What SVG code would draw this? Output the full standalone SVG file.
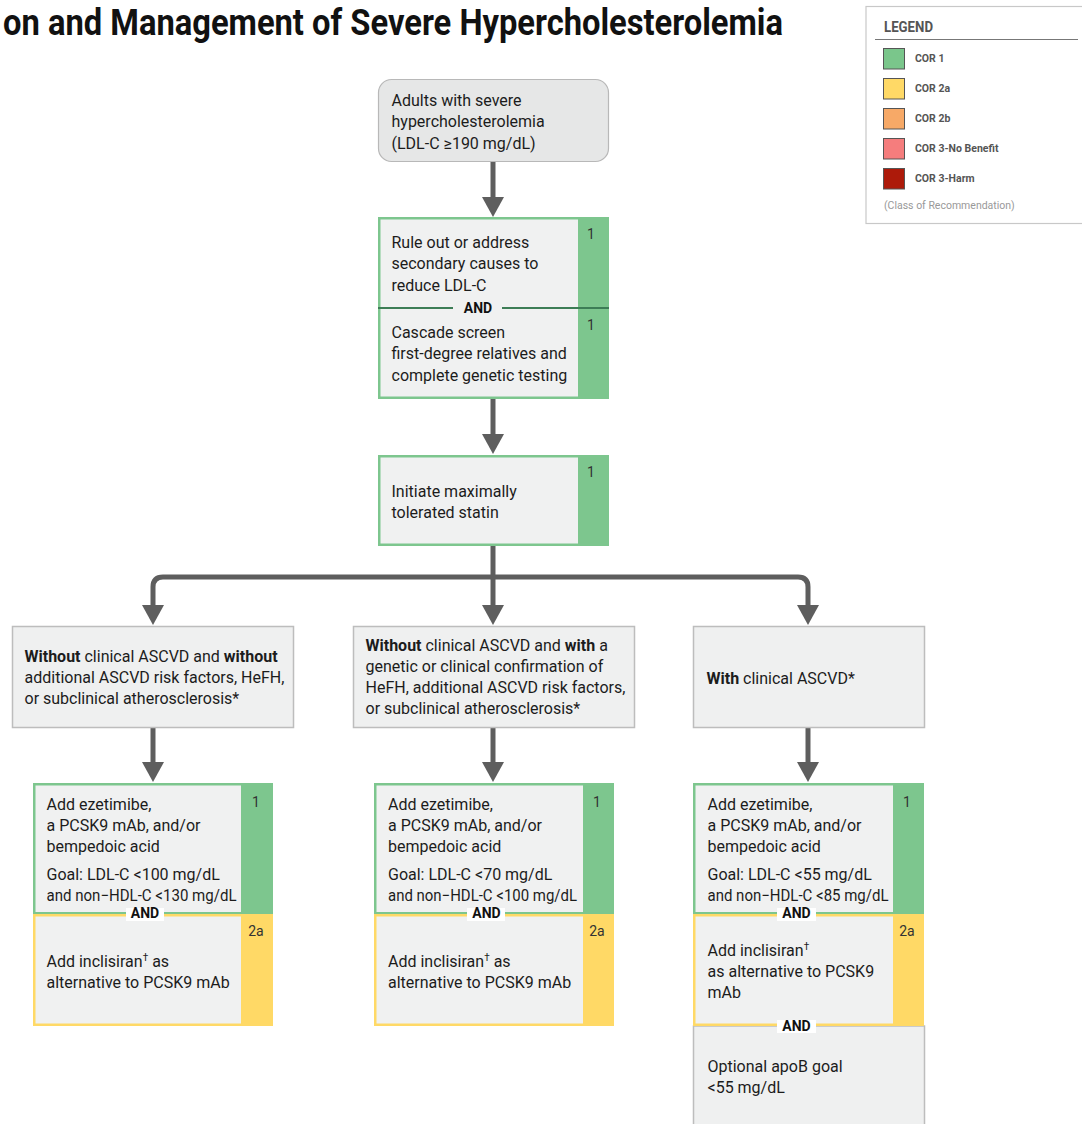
<svg xmlns="http://www.w3.org/2000/svg" width="1082" height="1124" viewBox="0 0 1082 1124">
<defs>
<style>
.t{font-family:Roboto,"Liberation Sans",sans-serif;font-size:16px;fill:#1c1c1c}
.b{font-weight:700}
.num{font-family:Roboto,"Liberation Sans",sans-serif;font-size:14px;fill:#333;text-anchor:middle}
.and{font-family:Roboto,"Liberation Sans",sans-serif;font-size:14px;font-weight:700;fill:#111;text-anchor:middle}
.box{fill:#eff0f0;stroke:#bdbdbd;stroke-width:1.5}
.g{fill:#7dc68e}
.y{fill:#ffd966}
.in{fill:#f0f1f1}
.con{fill:none;stroke:#5e5e5e;stroke-width:5;marker-end:url(#ah)}
.lbl{font-family:Roboto,"Liberation Sans",sans-serif;font-size:10.5px;font-weight:700;fill:#555}
.sw{stroke:#555;stroke-width:1}
</style>
<marker id="ah" viewBox="0 0 20 22" refX="0" refY="11" markerWidth="20" markerHeight="22" markerUnits="userSpaceOnUse" orient="auto">
<path d="M0,0 L20,11 L0,22 Z" fill="#5e5e5e"/>
</marker>
</defs>
<rect width="1082" height="1124" fill="#fff"/>

<text id="title" x="3" y="35" font-family="Roboto,'Liberation Sans',sans-serif" font-size="37" font-weight="700" fill="#111" textLength="780" lengthAdjust="spacingAndGlyphs">on and Management of Severe Hypercholesterolemia</text>

<g id="legend">
<rect x="866" y="6.5" width="230" height="217" fill="#fff" stroke="#c8c8c8" stroke-width="1.2"/>
<text x="884" y="32" font-family="Roboto,'Liberation Sans',sans-serif" font-size="14" font-weight="700" fill="#555" textLength="49" lengthAdjust="spacingAndGlyphs">LEGEND</text>
<line x1="875" y1="39.5" x2="1078" y2="39.5" stroke="#777" stroke-width="1.2"/>
<rect class="sw" x="883.5" y="48.5" width="21" height="20.5" fill="#7ac68b"/>
<text class="lbl" x="915" y="62">COR 1</text>
<rect class="sw" x="883.5" y="78.5" width="21" height="20.5" fill="#ffd966"/>
<text class="lbl" x="915" y="92">COR 2a</text>
<rect class="sw" x="883.5" y="108.5" width="21" height="20.5" fill="#f7a967"/>
<text class="lbl" x="915" y="122">COR 2b</text>
<rect class="sw" x="883.5" y="138.5" width="21" height="20.5" fill="#f57d7d"/>
<text class="lbl" x="915" y="152">COR 3-No Benefit</text>
<rect class="sw" x="883.5" y="168.5" width="21" height="20.5" fill="#ad1a0a"/>
<text class="lbl" x="915" y="182">COR 3-Harm</text>
<text x="884" y="208.5" font-family="Roboto,'Liberation Sans',sans-serif" font-size="10.5" fill="#999">(Class of Recommendation)</text>
</g>

<g id="connectors">
<path class="con" d="M493,161 V197"/>
<path class="con" d="M493,399 V434"/>
<path class="con" d="M493,546 V605"/>
<path class="con" d="M493,577 H163 Q153,577 153,587 V605"/>
<path class="con" d="M493,577 H798 Q808,577 808,587 V605"/>
<path class="con" d="M153,727 V762"/>
<path class="con" d="M493,727 V762"/>
<path class="con" d="M808,727 V762"/>
</g>

<g id="start">
<rect x="378.5" y="79.5" width="230" height="82" rx="13" fill="#e6e7e7" stroke="#b8b8b8" stroke-width="1.2"/>
<text class="t"><tspan x="391.5" y="106">Adults with severe</tspan><tspan x="391.5" y="127.3">hypercholesterolemia</tspan><tspan x="391.5" y="148.6">(LDL-C ≥190 mg/dL)</tspan></text>
</g>

<g id="secondary">
<rect class="g" x="378" y="217" width="231" height="182"/>
<rect class="in" x="380.5" y="219.5" width="197.5" height="177"/>
<line x1="378" y1="308" x2="609" y2="308" stroke="#3d7d56" stroke-width="2"/>
<rect x="453" y="300" width="49" height="15" fill="#f0f1f1"/>
<text class="and" x="478" y="313">AND</text>
<text class="num" x="591" y="239">1</text>
<text class="num" x="591" y="330">1</text>
<text class="t"><tspan x="391.5" y="248">Rule out or address</tspan><tspan x="391.5" y="269.3">secondary causes to</tspan><tspan x="391.5" y="290.6">reduce LDL-C</tspan></text>
<text class="t"><tspan x="391.5" y="338">Cascade screen</tspan><tspan x="391.5" y="359.3">first-degree relatives and</tspan><tspan x="391.5" y="380.6">complete genetic testing</tspan></text>
</g>

<g id="statin">
<rect class="g" x="378" y="455" width="231" height="91"/>
<rect class="in" x="380.5" y="457.5" width="197.5" height="86"/>
<text class="num" x="591" y="477">1</text>
<text class="t"><tspan x="391.5" y="497">Initiate maximally</tspan><tspan x="391.5" y="518.3">tolerated statin</tspan></text>
</g>

<g id="noRisk">
<rect class="box" x="12.5" y="626.5" width="281" height="101"/>
<text class="t"><tspan x="24.5" y="661.5"><tspan class="b">Without</tspan> clinical ASCVD and <tspan class="b">without</tspan></tspan><tspan x="24.5" y="682.8">additional ASCVD risk factors, HeFH,</tspan><tspan x="24.5" y="704.1">or subclinical atherosclerosis*</tspan></text>
</g>

<g id="withRisk">
<rect class="box" x="353.5" y="626.5" width="281" height="101"/>
<text class="t"><tspan x="365.5" y="650.5"><tspan class="b">Without</tspan> clinical ASCVD and <tspan class="b">with</tspan> a</tspan><tspan x="365.5" y="671.8">genetic or clinical confirmation of</tspan><tspan x="365.5" y="693.1">HeFH, additional ASCVD risk factors,</tspan><tspan x="365.5" y="714.4">or subclinical atherosclerosis*</tspan></text>
</g>

<g id="ascvd">
<rect class="box" x="693.5" y="626.5" width="231" height="101"/>
<text class="t" x="706.5" y="683.5"><tspan class="b">With</tspan> clinical ASCVD*</text>
</g>

<g id="treatA">
<rect class="g" x="33" y="783" width="240" height="131"/>
<rect class="in" x="35.5" y="785.5" width="205.5" height="126.5"/>
<rect class="y" x="33" y="914" width="240" height="112"/>
<rect class="in" x="35.5" y="916.5" width="205.5" height="107"/>
<rect x="126" y="908" width="38" height="13" fill="#fff"/>
<text class="and" x="145" y="918">AND</text>
<text class="num" x="256" y="807">1</text>
<text class="num" x="256" y="936">2a</text>
<text class="t"><tspan x="46.5" y="809.5">Add ezetimibe,</tspan><tspan x="46.5" y="830.8">a PCSK9 mAb, and/or</tspan><tspan x="46.5" y="852.1">bempedoic acid</tspan><tspan x="46.5" y="879.5">Goal: LDL-C &lt;100 mg/dL</tspan></text>
<text class="t" x="46.5" y="900.8" textLength="190" lengthAdjust="spacingAndGlyphs">and non−HDL-C &lt;130 mg/dL</text>
<text class="t"><tspan x="46.5" y="966.5">Add inclisiran<tspan font-size="10" dy="-6">†</tspan><tspan dy="6"> as</tspan></tspan><tspan x="46.5" y="987.8">alternative to PCSK9 mAb</tspan></text>
</g>

<g id="treatB">
<rect class="g" x="374" y="783" width="240" height="131"/>
<rect class="in" x="376.5" y="785.5" width="206.5" height="126.5"/>
<rect class="y" x="374" y="914" width="240" height="112"/>
<rect class="in" x="376.5" y="916.5" width="206.5" height="107"/>
<rect x="467" y="908" width="38" height="13" fill="#fff"/>
<text class="and" x="486.5" y="918">AND</text>
<text class="num" x="597" y="807">1</text>
<text class="num" x="597" y="936">2a</text>
<text class="t"><tspan x="388" y="809.5">Add ezetimibe,</tspan><tspan x="388" y="830.8">a PCSK9 mAb, and/or</tspan><tspan x="388" y="852.1">bempedoic acid</tspan><tspan x="388" y="879.5">Goal: LDL-C &lt;70 mg/dL</tspan></text>
<text class="t" x="388" y="900.8" textLength="189" lengthAdjust="spacingAndGlyphs">and non−HDL-C &lt;100 mg/dL</text>
<text class="t"><tspan x="388" y="966.5">Add inclisiran<tspan font-size="10" dy="-6">†</tspan><tspan dy="6"> as</tspan></tspan><tspan x="388" y="987.8">alternative to PCSK9 mAb</tspan></text>
</g>

<g id="treatC">
<rect class="box" x="693.5" y="1026" width="231" height="110"/>
<rect class="g" x="693" y="783" width="231" height="131"/>
<rect class="in" x="695.5" y="785.5" width="197.5" height="126.5"/>
<rect class="y" x="693" y="914" width="231" height="112"/>
<rect class="in" x="695.5" y="916.5" width="197.5" height="107"/>
<rect x="777" y="908" width="39" height="13" fill="#fff"/>
<text class="and" x="796.5" y="918">AND</text>
<rect x="777" y="1020" width="39" height="13" fill="#fff"/>
<text class="and" x="796.5" y="1030.5">AND</text>
<text class="num" x="907" y="807">1</text>
<text class="num" x="907" y="936">2a</text>
<text class="t"><tspan x="707.5" y="809.5">Add ezetimibe,</tspan><tspan x="707.5" y="830.8">a PCSK9 mAb, and/or</tspan><tspan x="707.5" y="852.1">bempedoic acid</tspan><tspan x="707.5" y="879.5">Goal: LDL-C &lt;55 mg/dL</tspan></text>
<text class="t" x="707.5" y="900.8" textLength="181" lengthAdjust="spacingAndGlyphs">and non−HDL-C &lt;85 mg/dL</text>
<text class="t"><tspan x="707.5" y="955.5">Add inclisiran<tspan font-size="10" dy="-6">†</tspan></tspan><tspan x="707.5" y="976.8">as alternative to PCSK9</tspan><tspan x="707.5" y="998.1">mAb</tspan></text>
<text class="t"><tspan x="707.5" y="1072">Optional apoB goal</tspan><tspan x="707.5" y="1093.3">&lt;55 mg/dL</tspan></text>
</g>
</svg>
